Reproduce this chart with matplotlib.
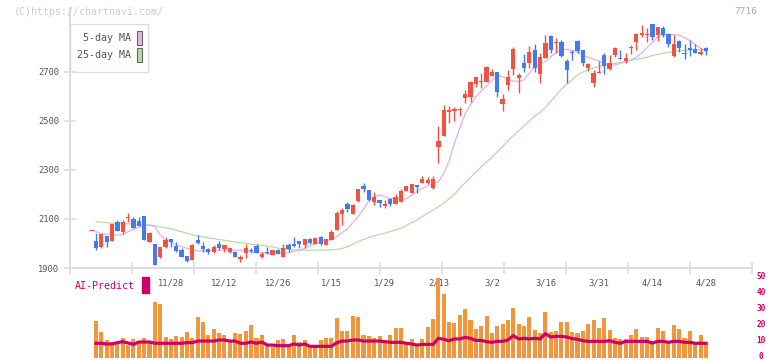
import matplotlib.pyplot as plt
import numpy as np
from matplotlib.patches import Rectangle
from matplotlib.transforms import blended_transform_factory, ScaledTranslation

plt.rcParams['font.family'] = ['DejaVu Sans Mono']

# daily candles (oldest first)
opens = [2010, 1987, 2031, 2011, 2086, 2048, 2104, 2100, 2092, 2112,
         2005, 1997, 1944, 1987, 2018, 1990, 1973, 1949, 1933, 2014,
         1991, 1978, 1967, 1997, 1978, 1967, 1967, 1935, 1960, 1973,
         1990, 1946, 1966, 1953, 1973, 1946, 1994, 1998, 2010, 1994,
         2018, 1998, 2028, 1994, 2014, 2055, 2120, 2161, 2120, 2173,
         2235, 2218, 2171, 2178, 2154, 2181, 2163, 2171, 2214, 2207,
         2239, 2248, 2248, 2228, 2395, 2439, 2538, 2542, 2545, 2595,
         2599, 2651, 2661, 2661, 2684, 2699, 2571, 2647, 2712, 2677,
         2738, 2735, 2790, 2692, 2758, 2848, 2817, 2822, 2746, 2780,
         2828, 2790, 2718, 2654, 2695, 2769, 2712, 2769, 2757, 2746,
         2797, 2824, 2851, 2851, 2896, 2851, 2878, 2855, 2765, 2827,
         2779, 2797, 2794, 2772, 2797]
highs = [2041, 2037, 2031, 2080, 2096, 2096, 2123, 2110, 2110, 2112,
         2046, 1997, 1984, 2025, 2018, 2005, 1983, 1949, 1997, 2035,
         2005, 1983, 1994, 2010, 1994, 1983, 1969, 1953, 1997, 1980,
         1997, 1964, 1987, 1973, 1978, 1997, 2001, 2028, 2010, 2018,
         2024, 2024, 2031, 2018, 2055, 2133, 2144, 2171, 2161, 2222,
         2246, 2218, 2209, 2178, 2178, 2185, 2200, 2221, 2235, 2243,
         2239, 2275, 2273, 2275, 2480, 2565, 2561, 2556, 2559, 2627,
         2665, 2680, 2695, 2725, 2711, 2699, 2609, 2708, 2801, 2695,
         2773, 2807, 2814, 2776, 2851, 2851, 2837, 2831, 2752, 2790,
         2831, 2790, 2738, 2708, 2746, 2776, 2769, 2800, 2790, 2776,
         2810, 2860, 2892, 2878, 2896, 2882, 2888, 2855, 2851, 2831,
         2814, 2831, 2814, 2797, 2801]
lows = [1973, 1980, 1987, 2011, 2052, 2037, 2089, 2065, 2073, 2016,
        2005, 1912, 1940, 1983, 1987, 1967, 1946, 1926, 1933, 1997,
        1967, 1956, 1960, 1973, 1967, 1960, 1944, 1926, 1942, 1960,
        1963, 1942, 1957, 1953, 1957, 1946, 1964, 1987, 1983, 1983,
        1998, 1998, 1994, 1994, 2014, 2055, 2075, 2130, 2120, 2171,
        2212, 2173, 2157, 2150, 2143, 2155, 2160, 2168, 2214, 2205,
        2205, 2246, 2243, 2221, 2330, 2439, 2493, 2501, 2520, 2572,
        2579, 2640, 2633, 2661, 2684, 2599, 2541, 2627, 2688, 2616,
        2701, 2715, 2701, 2654, 2758, 2776, 2776, 2760, 2656, 2750,
        2776, 2725, 2704, 2637, 2695, 2690, 2708, 2762, 2752, 2735,
        2772, 2790, 2844, 2824, 2831, 2828, 2842, 2803, 2762, 2783,
        2752, 2765, 2776, 2768, 2768]
closes = [1983, 2037, 2007, 2080, 2052, 2086, 2107, 2065, 2073, 2016,
          2041, 1912, 1984, 2014, 2005, 1971, 1946, 1930, 1994, 2001,
          1978, 1967, 1986, 1983, 1994, 1983, 1944, 1946, 1980, 1969,
          1963, 1958, 1960, 1973, 1957, 1980, 1978, 1990, 1998, 2018,
          2001, 2024, 1998, 2018, 2046, 2126, 2137, 2139, 2157, 2222,
          2222, 2178, 2188, 2167, 2160, 2160, 2190, 2214, 2235, 2243,
          2232, 2263, 2259, 2263, 2418, 2545, 2545, 2549, 2549, 2609,
          2657, 2680, 2665, 2720, 2701, 2620, 2590, 2680, 2794, 2688,
          2718, 2783, 2718, 2763, 2820, 2790, 2822, 2767, 2708, 2776,
          2787, 2738, 2733, 2695, 2701, 2726, 2738, 2797, 2754, 2757,
          2803, 2855, 2861, 2855, 2844, 2882, 2851, 2814, 2814, 2797,
          2772, 2790, 2779, 2783, 2787]
prev_close = 2057

ma5 = [2048, 2041, 2038, 2035, 2035, 2035, 2048, 2058, 2066, 2072,
       2075, 2069, 2035, 2015, 2005, 1995, 1988, 1980, 1975, 1969,
       1970, 1971, 1972, 1973, 1973, 1973, 1973, 1973, 1970, 1967,
       1965, 1962, 1960, 1961, 1963, 1960, 1962, 1969, 1972, 1980,
       1990, 2000, 2008, 2012, 2016, 2028, 2045, 2060, 2085, 2110,
       2140, 2175, 2190, 2198, 2192, 2183, 2180, 2180, 2182, 2198,
       2212, 2225, 2235, 2245, 2252, 2287, 2335, 2410, 2470, 2530,
       2565, 2599, 2622, 2642, 2665, 2688, 2680, 2670, 2663, 2661,
       2668, 2695, 2722, 2733, 2742, 2762, 2780, 2790, 2793, 2788,
       2780, 2768, 2760, 2752, 2745, 2735, 2730, 2728, 2735, 2742,
       2750, 2760, 2776, 2800, 2820, 2844, 2850, 2855, 2852, 2850,
       2840, 2828, 2812, 2797, 2785]
ma25 = [2089, 2087, 2085, 2083, 2082, 2081, 2080, 2079, 2077, 2076,
        2075, 2072, 2068, 2064, 2060, 2054, 2048, 2042, 2036, 2031,
        2027, 2023, 2020, 2016, 2013, 2010, 2006, 2003, 2001, 1997,
        1995, 1992, 1989, 1986, 1981, 1978, 1976, 1974, 1973, 1973,
        1973, 1973, 1973, 1973, 1974, 1976, 1980, 1987, 1997, 2008,
        2017, 2024, 2031, 2037, 2042, 2049, 2055, 2062, 2073, 2085,
        2096, 2110, 2124, 2137, 2150, 2164, 2183, 2200, 2227, 2248,
        2270, 2290, 2312, 2333, 2350, 2375, 2395, 2420, 2440, 2460,
        2480, 2500, 2520, 2535, 2555, 2580, 2605, 2630, 2650, 2668,
        2688, 2700, 2708, 2716, 2722, 2727, 2732, 2735, 2739, 2742,
        2747, 2751, 2756, 2760, 2767, 2772, 2776, 2780, 2783, 2786,
        2788, 2789, 2790, 2790, 2790]

volume = [23.3, 16.3, 11.3, 10.2, 10.2, 12.7, 8.1, 11.9, 10.2, 12.7,
          10.6, 35.2, 33.8, 13.3, 12.1, 13.8, 13.1, 16.3, 12.7, 25.6,
          22.5, 14.4, 18.1, 15.6, 14.4, 10.6, 15.6, 14.8, 16.9, 20.6,
          12.7, 14.4, 8.1, 7.1, 11.3, 11.9, 8.1, 14.4, 10.2, 11.3,
          7.7, 7.7, 11.3, 12.7, 12.7, 25.0, 16.9, 16.9, 26.3, 25.6,
          14.4, 13.8, 12.7, 13.8, 9.2, 14.4, 19.0, 19.0, 10.2, 11.9,
          7.5, 11.9, 19.4, 24.6, 49.8, 40.0, 22.5, 21.9, 26.9, 30.8,
          24.0, 18.1, 20.0, 26.3, 15.6, 20.0, 21.3, 24.0, 31.5, 21.3,
          20.0, 25.6, 17.5, 15.6, 28.8, 16.3, 16.9, 22.5, 22.5, 16.3,
          15.6, 16.9, 21.3, 24.0, 19.0, 25.0, 17.5, 12.5, 11.9, 11.9,
          14.4, 18.1, 13.1, 13.1, 9.4, 19.0, 16.9, 9.4, 20.6, 18.1,
          12.5, 16.9, 9.4, 14.4, 10.0]
ai_predict = [9.2, 9.2, 8.75, 8.75, 9.6, 10.2, 9.4, 8.5, 10.0, 10.0,
              10.0, 9.2, 9.2, 9.2, 9.2, 9.2, 9.2, 9.6, 9.6, 10.6,
              10.6, 10.6, 10.6, 11.25, 11.25, 10.6, 10.6, 9.2, 9.2, 10.0,
              9.2, 10.0, 8.1, 8.1, 7.7, 7.7, 7.7, 8.75, 8.1, 8.75,
              7.3, 7.3, 7.3, 7.3, 7.3, 9.5, 10.6, 10.6, 11.25, 11.25,
              10.6, 10.6, 10.6, 10.6, 10.2, 9.8, 9.8, 9.8, 9.2, 8.75,
              8.1, 8.5, 8.5, 8.5, 12.3, 11.7, 10.8, 11.9, 11.9, 12.9,
              12.3, 11.0, 11.0, 10.2, 9.8, 10.4, 10.4, 11.25, 14.0, 11.9,
              12.3, 11.9, 12.3, 11.9, 15.2, 13.1, 13.5, 13.5, 13.1, 12.1,
              11.7, 10.8, 10.4, 10.4, 10.4, 10.4, 10.8, 9.8, 9.2, 10.4,
              10.4, 10.4, 10.4, 10.4, 9.4, 10.4, 10.4, 9.8, 10.4, 10.4,
              9.8, 9.8, 9.2, 9.2, 9.2]

date_labels = ['11/28', '12/12', '12/26', '1/15', '1/29', '2/13',
               '3/2', '3/16', '3/31', '4/14', '4/28']
date_index = [14, 24, 34, 44, 54, 64, 74, 84, 94, 104, 114]
price_ticks = [1900, 2100, 2300, 2500, 2700]
volume_ticks = [0, 10, 20, 30, 40, 50]

RED = '#f25341'
BLUE = '#4479f0'
GRID = '#dddddd'
TEXT = '#555555'
MAGENTA = '#cc0066'

W, H = 772, 361
fig = plt.figure(figsize=(W / 100, H / 100), dpi=100)


def box(x0, y0, x1, y1):
    # pixel box (top-left origin) -> figure fraction rect
    return [x0 / W, 1 - y1 / H, (x1 - x0) / W, (y1 - y0) / H]


xlim = ((70 - 96) / 5.35, (752 - 96) / 5.35)

# price panel
ax = fig.add_axes(box(70, 8, 752, 268))
o, h, l, c = map(np.array, (opens, highs, lows, closes))
x = np.arange(len(c))
cols = np.where(c >= o, RED, BLUE)
ax.plot(x, ma25, color='#b4dca8', lw=0.9, zorder=1)
ax.plot(x, ma5, color='#e8aee8', lw=0.9, zorder=1)
ax.vlines(x, l, h, colors=cols, lw=1.0, zorder=2)
ax.bar(x, np.maximum(np.abs(c - o), 3), bottom=np.minimum(o, c), width=0.8,
       color=cols, zorder=3)
ax.hlines(prev_close, -1.3, -0.35, color=RED, lw=1.0)

ax.set_xlim(*xlim)
ax.set_ylim(1900, 2961)
ax.set_xticks(np.linspace(xlim[0], xlim[1], 12))
ax.set_xticklabels([])
ax.set_yticks(price_ticks)
ax.set_yticklabels([str(t) for t in price_ticks], color=TEXT, fontsize=6.3)
ax.tick_params(axis='both', direction='inout', length=8, width=1.2,
               color=GRID, pad=4)
for side in ('top', 'right'):
    ax.spines[side].set_visible(False)
for side in ('left', 'bottom'):
    ax.spines[side].set_color(GRID)
    ax.spines[side].set_linewidth(1.5)

tr = blended_transform_factory(ax.transData, ax.transAxes)
for i, lab in zip(date_index, date_labels):
    ax.text(i, -0.058, lab, transform=tr, ha='center', va='center',
            fontsize=6.3, color=TEXT)

# volume panel
vx = fig.add_axes(box(70, 278, 752, 358))
vx.bar(x, volume, width=0.75, color='#f0963c', zorder=1)
vx.plot(x, ai_predict, color=MAGENTA, lw=2.3, zorder=2)
vx.set_xlim(*xlim)
vx.set_ylim(0, 50)
vx.set_xticks([])
vx.set_yticks([])
for s in vx.spines.values():
    s.set_visible(False)
vx.patch.set_alpha(0)
# right-side scale labels, nudged up a pixel so the 0 stays on the canvas
lift = ScaledTranslation(0, 1.5 / 100, fig.dpi_scale_trans)
vtr = blended_transform_factory(vx.transAxes, vx.transData) + lift
for t in volume_ticks:
    vx.text(1.0 + 9 / 682, t, str(t), transform=vtr, ha='center',
            va='center', fontsize=5.6, fontweight='bold', color=MAGENTA)

# legend
fig.patches.append(Rectangle((70 / W, 1 - 72 / H), 78 / W, 48 / H,
                             transform=fig.transFigure, fill=False,
                             edgecolor=GRID, lw=1.0))
for y, lab, col in [(38, '5-day MA', '#e8b4e8'), (55, '25-day MA', '#b8dca8')]:
    fig.text(131 / W, 1 - y / H, lab, ha='right', va='center',
             fontsize=7.2, color=TEXT)
    fig.patches.append(Rectangle((137 / W, 1 - (y + 7) / H), 5 / W, 14 / H,
                                 transform=fig.transFigure, facecolor=col,
                                 edgecolor='#666666', lw=0.8))

fig.text(75 / W, 1 - 286 / H, 'AI-Predict', ha='left', va='center',
         fontsize=7.2, color=MAGENTA)
fig.patches.append(Rectangle((142 / W, 1 - 293 / H), 7 / W, 16 / H,
                             transform=fig.transFigure, color=MAGENTA))

fig.text(14 / W, 1 - 12 / H, '(C)https://chartnavi.com/', ha='left',
         va='center', fontsize=7.2, color='#cccccc')
fig.text(757 / W, 1 - 12 / H, '7716', ha='right', va='center',
         fontsize=6.8, color='#aaaaaa')

fig.savefig('out.png', dpi=100)
